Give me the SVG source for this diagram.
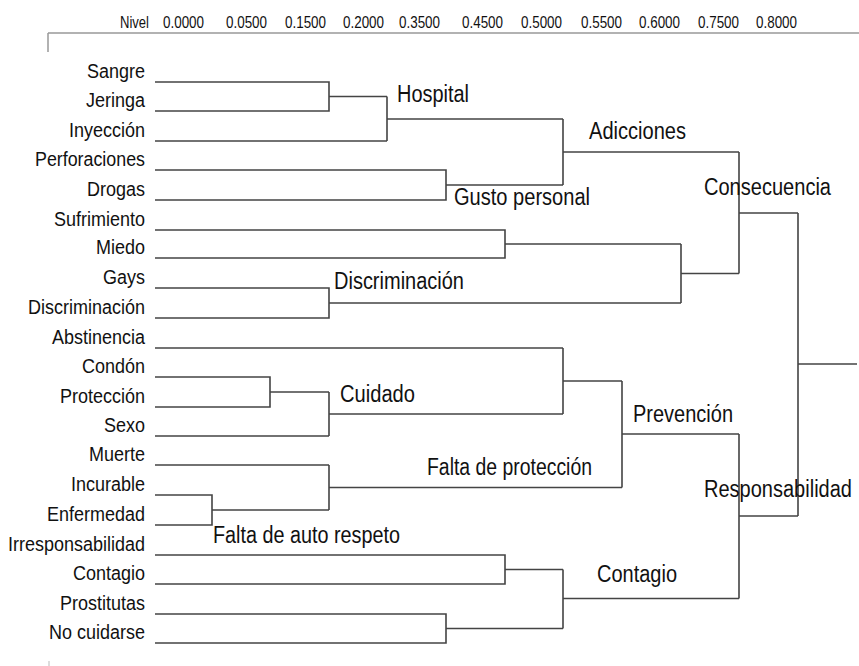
<svg xmlns="http://www.w3.org/2000/svg" width="859" height="666" viewBox="0 0 859 666">
<style>
text{font-family:"Liberation Sans",Arial,sans-serif;fill:#111}
.hd{font-size:16.5px}
.leaf{font-size:20px;text-anchor:end}
.cl{font-size:23px}
.ln{fill:none;stroke:#444;stroke-width:1.6}
.ax{fill:none;stroke:#999;stroke-width:1.5}
</style>
<rect width="859" height="666" fill="#fff"/>
<g id="axis">
<path class="ax" d="M48 33H859M48 33V52"/>
<path d="M49 661V666" stroke="#bbb" stroke-width="1"/>
<text class="hd" x="120" y="28" textLength="29" lengthAdjust="spacingAndGlyphs">Nivel</text>
<text class="hd" x="163" y="28" textLength="41" lengthAdjust="spacingAndGlyphs">0.0000</text>
<text class="hd" x="226" y="28" textLength="41" lengthAdjust="spacingAndGlyphs">0.0500</text>
<text class="hd" x="285" y="28" textLength="41" lengthAdjust="spacingAndGlyphs">0.1500</text>
<text class="hd" x="343" y="28" textLength="41" lengthAdjust="spacingAndGlyphs">0.2000</text>
<text class="hd" x="399" y="28" textLength="41" lengthAdjust="spacingAndGlyphs">0.3500</text>
<text class="hd" x="462" y="28" textLength="41" lengthAdjust="spacingAndGlyphs">0.4500</text>
<text class="hd" x="521" y="28" textLength="41" lengthAdjust="spacingAndGlyphs">0.5000</text>
<text class="hd" x="581" y="28" textLength="41" lengthAdjust="spacingAndGlyphs">0.5500</text>
<text class="hd" x="639" y="28" textLength="41" lengthAdjust="spacingAndGlyphs">0.6000</text>
<text class="hd" x="698" y="28" textLength="41" lengthAdjust="spacingAndGlyphs">0.7500</text>
<text class="hd" x="756" y="28" textLength="41" lengthAdjust="spacingAndGlyphs">0.8000</text>
</g>
<g id="connectors">
<path class="ln" d="M155 82H329V111H155M329 96.5H387M155 141H387M387 96.5V141M387 119H563"/>
<path class="ln" d="M155 170H446V200H155M446 185H563M563 119V185M563 152H739"/>
<path class="ln" d="M155 230H505V258H155M505 244H681"/>
<path class="ln" d="M155 288H329V318H155M329 303H681M681 244V303M681 273.5H739"/>
<path class="ln" d="M739 152V273.5M739 213H798"/>
<path class="ln" d="M155 348H563"/>
<path class="ln" d="M155 377H270V407H155M270 392H329M155 436H329M329 392V436M329 414H563M563 348V414M563 381H622"/>
<path class="ln" d="M155 495H212V525H155M212 510H329M155 465H329M329 465V510M329 487.5H622M622 381V487.5M622 434H739"/>
<path class="ln" d="M155 555H505V584H155M505 569.5H563M155 614H446V643H155M446 628.5H563M563 569.5V628.5M563 598.5H739"/>
<path class="ln" d="M739 434V598.5M739 516H798M798 213V516M798 364H857"/>
</g>
<g id="leaves">
<text class="leaf" x="145" y="78" textLength="58" lengthAdjust="spacingAndGlyphs">Sangre</text>
<text class="leaf" x="145" y="107" textLength="59" lengthAdjust="spacingAndGlyphs">Jeringa</text>
<text class="leaf" x="145" y="137" textLength="76" lengthAdjust="spacingAndGlyphs">Inyección</text>
<text class="leaf" x="145" y="166" textLength="110" lengthAdjust="spacingAndGlyphs">Perforaciones</text>
<text class="leaf" x="145" y="196" textLength="58" lengthAdjust="spacingAndGlyphs">Drogas</text>
<text class="leaf" x="145" y="226" textLength="91" lengthAdjust="spacingAndGlyphs">Sufrimiento</text>
<text class="leaf" x="145" y="254" textLength="49" lengthAdjust="spacingAndGlyphs">Miedo</text>
<text class="leaf" x="145" y="284" textLength="42" lengthAdjust="spacingAndGlyphs">Gays</text>
<text class="leaf" x="145" y="314" textLength="117" lengthAdjust="spacingAndGlyphs">Discriminación</text>
<text class="leaf" x="145" y="344" textLength="93" lengthAdjust="spacingAndGlyphs">Abstinencia</text>
<text class="leaf" x="145" y="373" textLength="63" lengthAdjust="spacingAndGlyphs">Condón</text>
<text class="leaf" x="145" y="403" textLength="85" lengthAdjust="spacingAndGlyphs">Protección</text>
<text class="leaf" x="145" y="432" textLength="41" lengthAdjust="spacingAndGlyphs">Sexo</text>
<text class="leaf" x="145" y="461" textLength="56" lengthAdjust="spacingAndGlyphs">Muerte</text>
<text class="leaf" x="145" y="491" textLength="74" lengthAdjust="spacingAndGlyphs">Incurable</text>
<text class="leaf" x="145" y="521" textLength="98" lengthAdjust="spacingAndGlyphs">Enfermedad</text>
<text class="leaf" x="145" y="551" textLength="137" lengthAdjust="spacingAndGlyphs">Irresponsabilidad</text>
<text class="leaf" x="145" y="580" textLength="72" lengthAdjust="spacingAndGlyphs">Contagio</text>
<text class="leaf" x="145" y="610" textLength="85" lengthAdjust="spacingAndGlyphs">Prostitutas</text>
<text class="leaf" x="145" y="639" textLength="96" lengthAdjust="spacingAndGlyphs">No cuidarse</text>
</g>
<g id="clusters">
<text class="cl" x="397" y="102" textLength="72" lengthAdjust="spacingAndGlyphs">Hospital</text>
<text class="cl" x="589" y="139" textLength="97" lengthAdjust="spacingAndGlyphs">Adicciones</text>
<text class="cl" x="454" y="205" textLength="136" lengthAdjust="spacingAndGlyphs">Gusto personal</text>
<text class="cl" x="704" y="195" textLength="127" lengthAdjust="spacingAndGlyphs">Consecuencia</text>
<text class="cl" x="334" y="289" textLength="130" lengthAdjust="spacingAndGlyphs">Discriminación</text>
<text class="cl" x="340" y="402" textLength="75" lengthAdjust="spacingAndGlyphs">Cuidado</text>
<text class="cl" x="427" y="475" textLength="165" lengthAdjust="spacingAndGlyphs">Falta de protección</text>
<text class="cl" x="213" y="543" textLength="187" lengthAdjust="spacingAndGlyphs">Falta de auto respeto</text>
<text class="cl" x="633" y="422" textLength="100" lengthAdjust="spacingAndGlyphs">Prevención</text>
<text class="cl" x="704" y="497" textLength="148" lengthAdjust="spacingAndGlyphs">Responsabilidad</text>
<text class="cl" x="597" y="582" textLength="80" lengthAdjust="spacingAndGlyphs">Contagio</text>
</g>
</svg>
